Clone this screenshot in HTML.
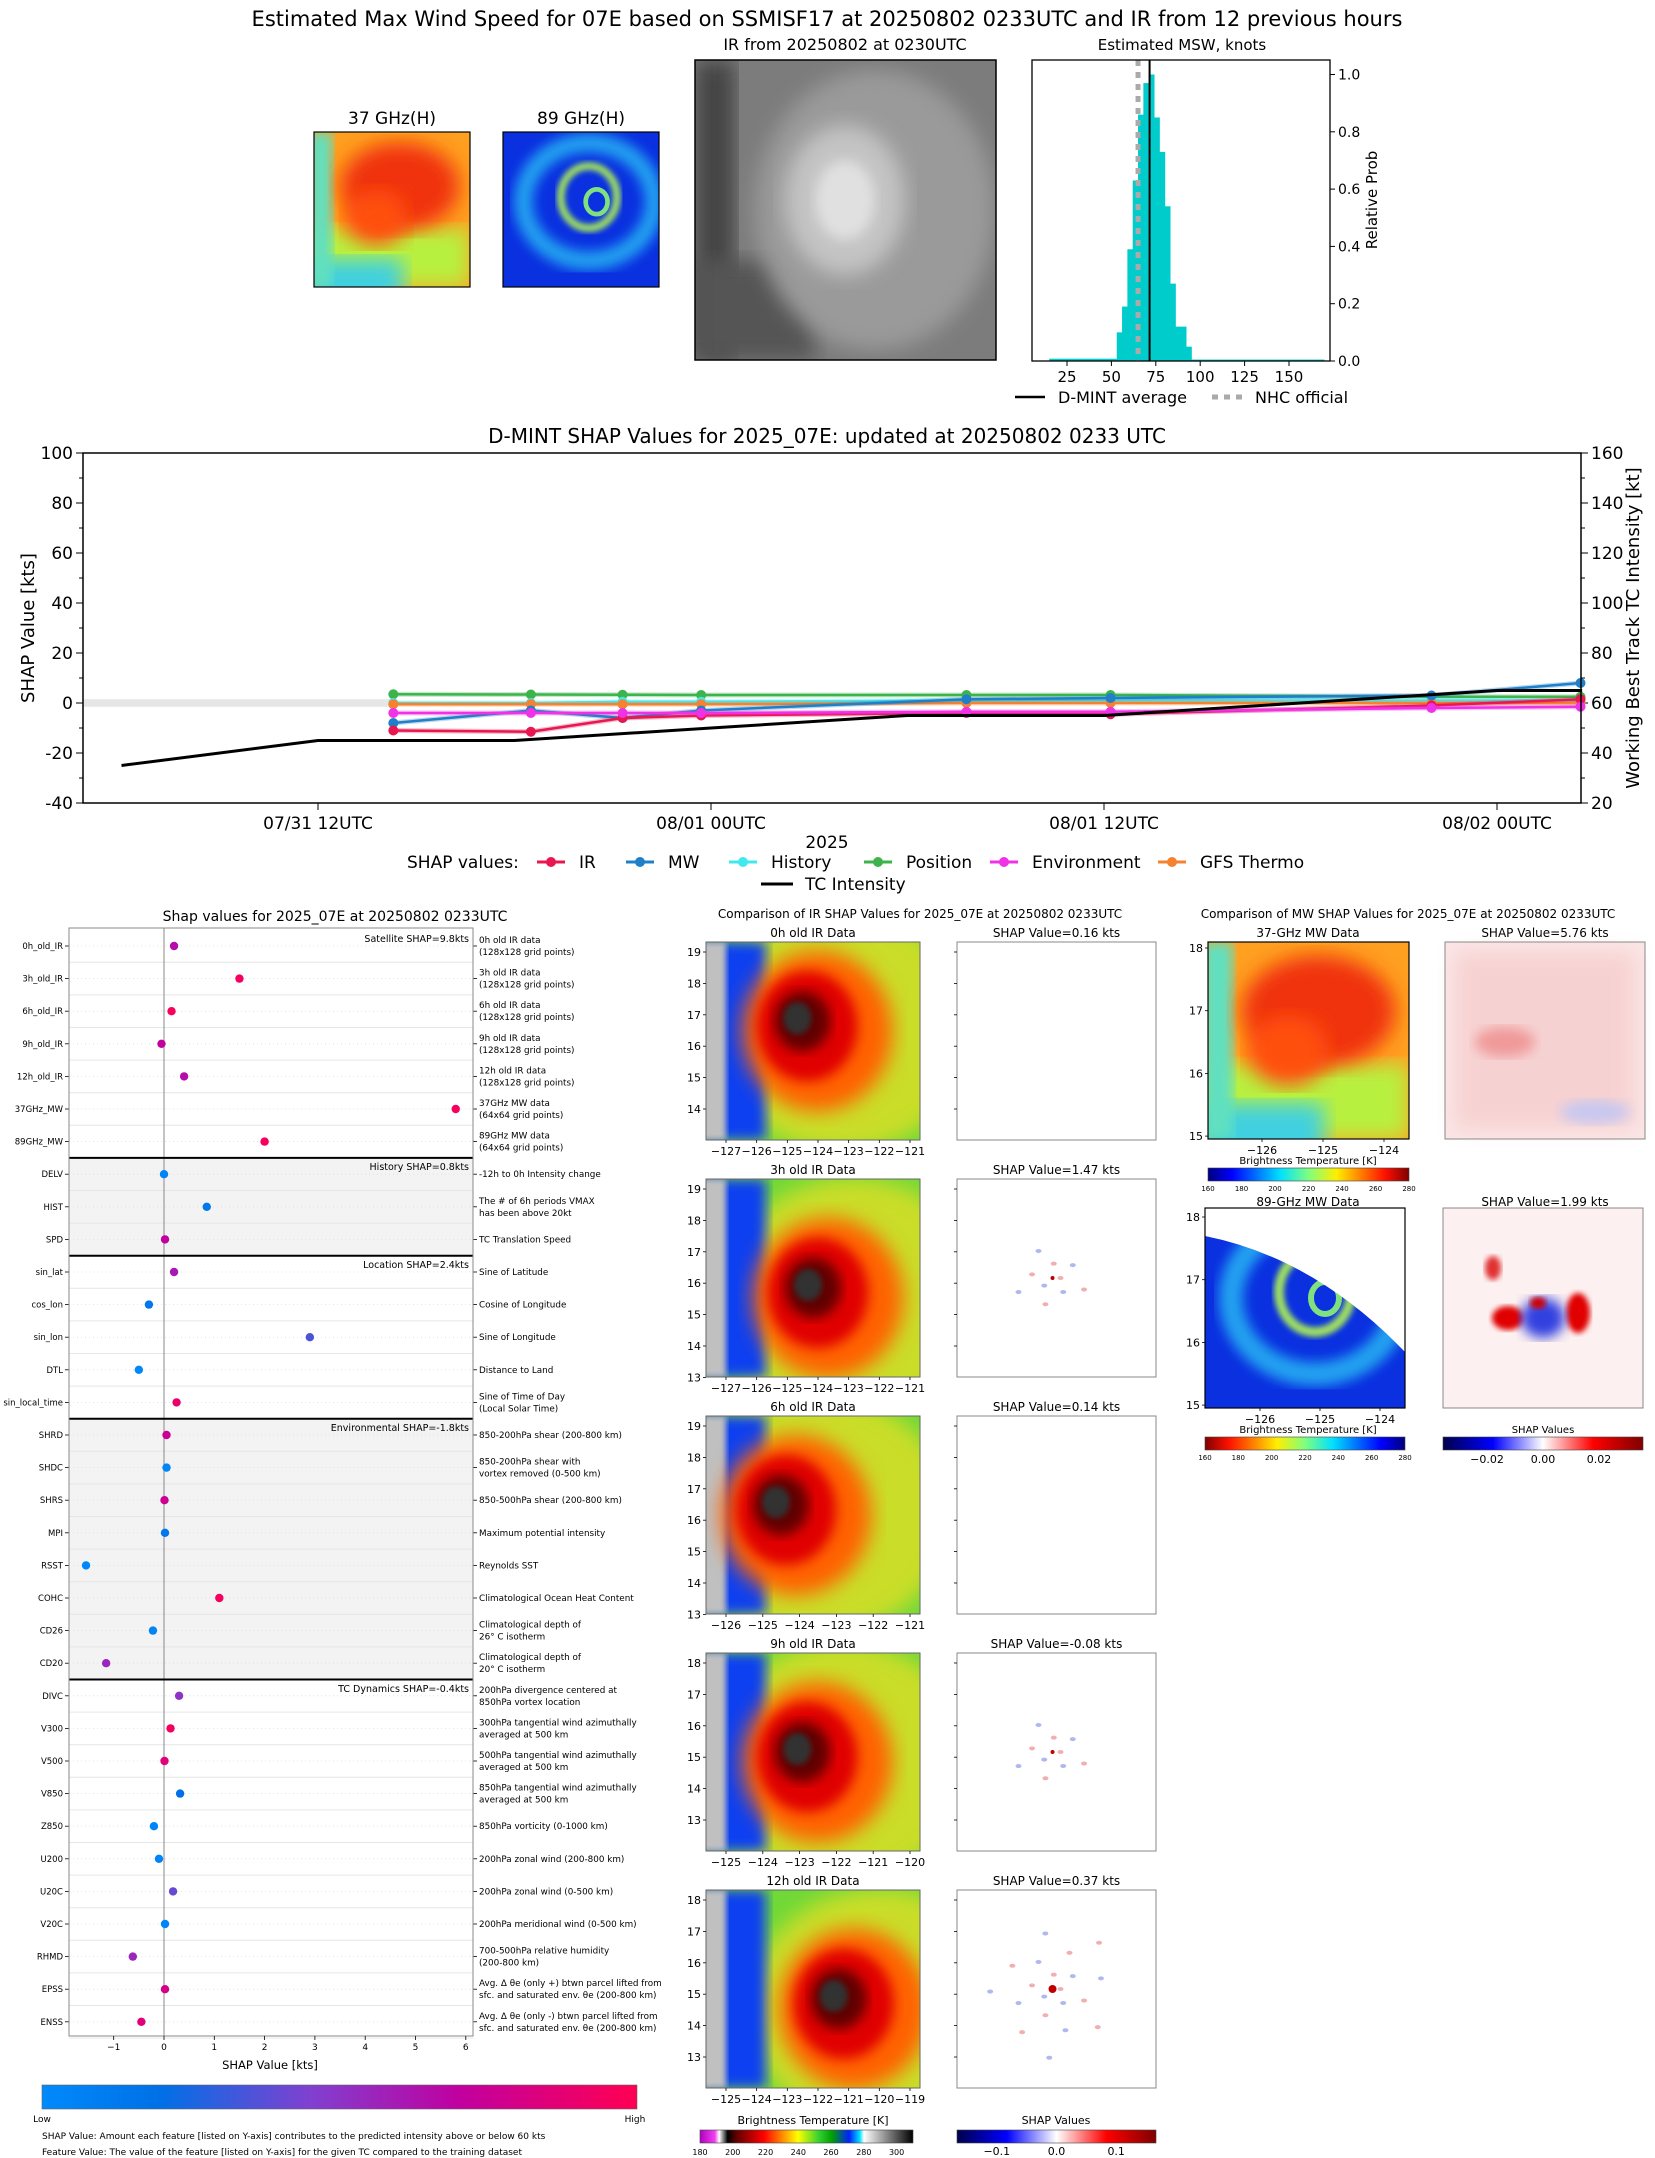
<!DOCTYPE html>
<html><head><meta charset="utf-8">
<style>
html,body{margin:0;padding:0;background:#fff;}
svg{display:block;font-family:"DejaVu Sans","Liberation Sans",sans-serif;}
</style></head>
<body>
<svg id="root" width="1655" height="2158" viewBox="0 0 1655 2158" xmlns="http://www.w3.org/2000/svg">
<defs>
<filter id="b3"><feGaussianBlur stdDeviation="3"/></filter>
<filter id="b6"><feGaussianBlur stdDeviation="6"/></filter>
<filter id="b10"><feGaussianBlur stdDeviation="10"/></filter>
<linearGradient id="jet" x1="0" x2="1"><stop offset="0" stop-color="#00007f"/><stop offset="0.12" stop-color="#0000ff"/><stop offset="0.36" stop-color="#00e0ff"/><stop offset="0.5" stop-color="#7fff7f"/><stop offset="0.64" stop-color="#ffee00"/><stop offset="0.88" stop-color="#ff1000"/><stop offset="1" stop-color="#7f0000"/></linearGradient>
<linearGradient id="jetr" x1="1" x2="0"><stop offset="0" stop-color="#00007f"/><stop offset="0.12" stop-color="#0000ff"/><stop offset="0.36" stop-color="#00e0ff"/><stop offset="0.5" stop-color="#7fff7f"/><stop offset="0.64" stop-color="#ffee00"/><stop offset="0.88" stop-color="#ff1000"/><stop offset="1" stop-color="#7f0000"/></linearGradient>
<linearGradient id="seis" x1="0" x2="1"><stop offset="0" stop-color="#00004c"/><stop offset="0.25" stop-color="#0000ff"/><stop offset="0.5" stop-color="#ffffff"/><stop offset="0.75" stop-color="#ff0000"/><stop offset="1" stop-color="#7f0000"/></linearGradient>
<linearGradient id="irc" x1="0" x2="1"><stop offset="0" stop-color="#b000c0"/><stop offset="0.07" stop-color="#f040f0"/><stop offset="0.09" stop-color="#ffffff"/><stop offset="0.13" stop-color="#000000"/><stop offset="0.17" stop-color="#600000"/><stop offset="0.3" stop-color="#ff0000"/><stop offset="0.4" stop-color="#ffa000"/><stop offset="0.46" stop-color="#ffff00"/><stop offset="0.56" stop-color="#30d030"/><stop offset="0.62" stop-color="#00a000"/><stop offset="0.7" stop-color="#0020ff"/><stop offset="0.75" stop-color="#00e0ff"/><stop offset="0.77" stop-color="#ffffff"/><stop offset="1" stop-color="#000000"/></linearGradient>
<linearGradient id="shapcb" x1="0" x2="1"><stop offset="0" stop-color="#008afb"/><stop offset="0.2" stop-color="#0070e6"/><stop offset="0.45" stop-color="#8040d0"/><stop offset="0.7" stop-color="#c000a0"/><stop offset="1" stop-color="#ff0052"/></linearGradient>
</defs>
<g id="g"></g>
</svg>
<script>
// ---------- DATA: time-series chart ----------
const seriesNames = ["IR","MW","History","Position","Environment","GFS Thermo"];
const seriesColors = ["#e8174f","#1f7fc8","#40e8f0","#3cb44b","#f032e6","#f58231"];
const shapHours = [2.3, 6.5, 9.3, 11.7, 19.8, 24.2, 34.0, 38.55];
const irVals = [-11, -11.5, -6, -5, -4, -4.5, -1, 1.5];
const mwVals = [-8, -3, -6, -3, 1.5, 2, 3, 8];
const histVals = [0, 0, 0.5, 0.5, 1, 1, 1, 1];
const posVals = [3.5, 3.4, 3.3, 3.2, 3.2, 3.2, 2.5, 2.5];
const envVals = [-4, -4, -4, -4, -3.5, -3.5, -2, -1.5];
const gfsVals = [-0.5, -0.5, -0.5, -0.5, 0, 0, 0, 0];
const tcHours = [-6, 0, 6, 12, 18, 24, 30, 36, 38.6];
const tcKts = [35, 45, 45, 50, 55, 55, 60, 65, 65];
const leftTicks = [100, 80, 60, 40, 20, 0, -20, -40];
const rightTicks = [160, 140, 120, 100, 80, 60, 40, 20];
const xTickHours = [0, 12, 24, 36];
const xTickLabels = ["07/31 12UTC", "08/01 00UTC", "08/01 12UTC", "08/02 00UTC"];
// ---------- DATA: histogram ----------
const histBins = [53,56,59,62,65,68,71,74,77,80,83,86,89,92];
const histProb = [0.10,0.19,0.39,0.63,0.86,0.97,1.0,0.85,0.73,0.54,0.27,0.12,0.12,0.05];
const dmintAvg = 71.5;
const nhcOfficial = 65;
const histXTicks = [25,50,75,100,125,150];
const histYTicks = [0,0.2,0.4,0.6,0.8,1.0];
// ---------- DATA: feature SHAP ----------
const featNames = ["0h_old_IR","3h_old_IR","6h_old_IR","9h_old_IR","12h_old_IR","37GHz_MW","89GHz_MW","DELV","HIST","SPD","sin_lat","cos_lon","sin_lon","DTL","sin_local_time","SHRD","SHDC","SHRS","MPI","RSST","COHC","CD26","CD20","DIVC","V300","V500","V850","Z850","U200","U20C","V20C","RHMD","EPSS","ENSS"];
const featShap = [0.2,1.5,0.15,-0.05,0.4,5.8,2.0,0,0.85,0.02,0.2,-0.3,2.9,-0.5,0.25,0.05,0.05,0.01,0.02,-1.55,1.1,-0.22,-1.15,0.3,0.13,0.01,0.32,-0.2,-0.1,0.18,0.02,-0.62,0.02,-0.45];
const featLevel = [0.65,0.95,0.97,0.7,0.65,0.95,0.95,0.05,0.15,0.7,0.6,0.15,0.35,0.02,0.9,0.75,0.05,0.75,0.15,0.02,0.95,0.05,0.55,0.5,0.95,0.85,0.2,0.05,0.05,0.4,0.05,0.55,0.8,0.85];
const featDesc = [["0h old IR data","(128x128 grid points)"],["3h old IR data","(128x128 grid points)"],["6h old IR data","(128x128 grid points)"],["9h old IR data","(128x128 grid points)"],["12h old IR data","(128x128 grid points)"],["37GHz MW data","(64x64 grid points)"],["89GHz MW data","(64x64 grid points)"],["-12h to 0h Intensity change"],["The # of 6h periods VMAX","has been above 20kt"],["TC Translation Speed"],["Sine of Latitude"],["Cosine of Longitude"],["Sine of Longitude"],["Distance to Land"],["Sine of Time of Day","(Local Solar Time)"],["850-200hPa shear (200-800 km)"],["850-200hPa shear with","vortex removed (0-500 km)"],["850-500hPa shear (200-800 km)"],["Maximum potential intensity"],["Reynolds SST"],["Climatological Ocean Heat Content"],["Climatological depth of","26° C isotherm"],["Climatological depth of","20° C isotherm"],["200hPa divergence centered at","850hPa vortex location"],["300hPa tangential wind azimuthally","averaged at 500 km"],["500hPa tangential wind azimuthally","averaged at 500 km"],["850hPa tangential wind azimuthally","averaged at 500 km"],["850hPa vorticity (0-1000 km)"],["200hPa zonal wind (200-800 km)"],["200hPa zonal wind (0-500 km)"],["200hPa meridional wind (0-500 km)"],["700-500hPa relative humidity","(200-800 km)"],["Avg. Δ θe (only +) btwn parcel lifted from","sfc. and saturated env. θe (200-800 km)"],["Avg. Δ θe (only -) btwn parcel lifted from","sfc. and saturated env. θe (200-800 km)"]];
const groupStarts = [0,7,10,15,23];
const groupLabels = ["Satellite SHAP=9.8kts","History SHAP=0.8kts","Location SHAP=2.4kts","Environmental SHAP=-1.8kts","TC Dynamics SHAP=-0.4kts"];
const featXTicks = [-1,0,1,2,3,4,5,6];

const NS="http://www.w3.org/2000/svg";
const G=document.getElementById('g');
function el(tag,attrs,parent,name,inter){const e=document.createElementNS(NS,tag);for(const k in attrs)e.setAttribute(k,attrs[k]);
 
 
 (parent||G).appendChild(e);return e;}
function tx(x,y,s,size,anchor,name,extra){const e=el('text',Object.assign({x:x,y:y,'font-size':size,'text-anchor':anchor||'start',fill:'#000'},extra||{}),null,name);e.textContent=s;return e;}
function line(x1,y1,x2,y2,stroke,w,name,extra){return el('line',Object.assign({x1:x1,y1:y1,x2:x2,y2:y2,stroke:stroke,'stroke-width':w},extra||{}),null,name);}
function rect(x,y,w,h,fill,name,extra){return el('rect',Object.assign({x:x,y:y,width:w,height:h,fill:fill},extra||{}),null,name);}

// ===== TOP TITLE =====
tx(827,26,"Estimated Max Wind Speed for 07E based on SSMISF17 at 20250802 0233UTC and IR from 12 previous hours",21,'middle','main-title');

// ===== small MW panels =====
function mw37(x,y,w,h,name){
 const g=el('g',{},null,name);
 const cp=el('clipPath',{id:'c'+name},g,name+'-clip');el('rect',{x:x,y:y,width:w,height:h},cp,name+'-clip-rect');
 const gg=el('g',{'clip-path':'url(#c'+name+')'},g,name+'-image');
 el('rect',{x:x,y:y,width:w,height:h,fill:'#ffa020'},gg,'bg');
 el('rect',{x:x,y:y+h*0.62,width:w,height:h*0.38,fill:'#b8f040',filter:'url(#b10)'},gg,'lowband');
 el('rect',{x:x-5,y:y+h*0.82,width:w*0.6,height:h*0.3,fill:'#40d0e0',filter:'url(#b10)'},gg,'cyan');
 el('rect',{x:x-5,y:y,width:w*0.15,height:h,fill:'#60e0c0',filter:'url(#b6)'},gg,'leftcyan');
 el('ellipse',{cx:x+w*0.55,cy:y+h*0.35,rx:w*0.38,ry:h*0.28,fill:'#f03010',filter:'url(#b10)'},gg,'redcore');
 el('ellipse',{cx:x+w*0.4,cy:y+h*0.55,rx:w*0.2,ry:h*0.18,fill:'#ff5010',filter:'url(#b10)'},gg,'redcore2');
 el('rect',{x:x,y:y,width:w,height:h,fill:'none',stroke:'#000','stroke-width':1.2},g,'frame');
}
function mw89(x,y,w,h,name,cut){
 const g=el('g',{},null,name);
 const cp=el('clipPath',{id:'c'+name},g,name+'-clip');el('rect',{x:x,y:y,width:w,height:h},cp,name+'-clip-rect');
 const gg=el('g',{'clip-path':'url(#c'+name+')'},g,name+'-image');
 el('rect',{x:x,y:y,width:w,height:h,fill:'#0a30e0'},gg,'bg');
 el('ellipse',{cx:x+w*0.55,cy:y+h*0.45,rx:w*0.42,ry:h*0.38,fill:'none',stroke:'#20a0f0','stroke-width':w*0.12,filter:'url(#b6)'},gg,'band');
 el('ellipse',{cx:x+w*0.55,cy:y+h*0.42,rx:w*0.18,ry:h*0.2,fill:'none',stroke:'#a0e060','stroke-width':w*0.05,filter:'url(#b3)'},gg,'ring');
 el('ellipse',{cx:x+w*0.6,cy:y+h*0.45,rx:w*0.07,ry:h*0.08,fill:'none',stroke:'#80e080','stroke-width':w*0.03},gg,'ring2');
 if(cut){el('path',{d:`M${x} ${y+h*0.14} Q${x+w*0.55} ${y+h*0.25} ${x+w} ${y+h*0.72} L${x+w} ${y} L${x} ${y} Z`,fill:'#fff'},gg,'swath-edge');}
 el('rect',{x:x,y:y,width:w,height:h,fill:'none',stroke:'#000','stroke-width':1.2},g,'frame');
}
tx(392,124,"37 GHz(H)",17,'middle','mw37-title');
mw37(314,132,156,155,'mw37-thumb');
tx(581,124,"89 GHz(H)",17,'middle','mw89-title');
mw89(503,132,156,155,'mw89-thumb',false);

// ===== IR grayscale =====
tx(845,50,"IR from 20250802 at 0230UTC",16,'middle','ir-gray-title');
(function(){const x=695,y=60,w=301,h=300;const g=el('g',{},null,'ir-gray-image');
 const cp=el('clipPath',{id:'cgray'},g,'clip');el('rect',{x:x,y:y,width:w,height:h},cp,'clip-rect');
 const gg=el('g',{'clip-path':'url(#cgray)'},g,'gray-layers');
 el('rect',{x:x,y:y,width:w,height:h,fill:'#7c7c7c'},gg,'bg');
 el('rect',{x:x,y:y,width:40,height:h,fill:'#454545',filter:'url(#b10)'},gg,'dark-left');
 el('rect',{x:x,y:y+200,width:120,height:100,fill:'#555',filter:'url(#b10)'},gg,'dark-bl');
 el('ellipse',{cx:x+180,cy:y+150,rx:120,ry:140,fill:'#9a9a9a',filter:'url(#b10)'},gg,'cloud');
 el('ellipse',{cx:x+150,cy:y+140,rx:60,ry:75,fill:'#c4c4c4',filter:'url(#b10)'},gg,'cdo');
 el('ellipse',{cx:x+150,cy:y+140,rx:30,ry:40,fill:'#e0e0e0',filter:'url(#b6)'},gg,'core');
 el('rect',{x:x,y:y,width:w,height:h,fill:'none',stroke:'#000','stroke-width':1.5},g,'frame');})();

// ===== Histogram =====
const hx0=1032,hx1=1330,hy0=60,hy1=361;
const hX=v=>1067+(v-25)*1.776, hY=p=>361-p*286.5;
tx(1182,50,"Estimated MSW, knots",15,'middle','hist-title');
rect(hX(15),hY(0.008),hX(53)-hX(15),hY(0)-hY(0.008),'#00cccc','hist-tail-low');
rect(hX(95),hY(0.005),hX(170)-hX(95),hY(0)-hY(0.005),'#00cccc','hist-tail-high');
histBins.forEach((b,i)=>{const r=rect(hX(b),hY(histProb[i]),hX(b+3)-hX(b)+0.5,hY(0)-hY(histProb[i]),'#00cccc','hist-bar');});
line(hX(nhcOfficial),hy0,hX(nhcOfficial),hy1,'#aaaaaa',5,'nhc-official-line',{'stroke-dasharray':'6,6'});
line(hX(dmintAvg),hy0,hX(dmintAvg),hy1,'#000',2,'dmint-average-line');
rect(hx0,hy0,hx1-hx0,hy1-hy0,'none','hist-frame',{stroke:'#000','stroke-width':1.3});
histXTicks.forEach(v=>{line(hX(v),hy1,hX(v),hy1+5,'#000',1,'hist-xtick');tx(hX(v),hy1+21,String(v),15,'middle','hist-xtick-label');});
histYTicks.forEach(v=>{line(hx1,hY(v),hx1+5,hY(v),'#000',1,'hist-ytick');tx(hx1+8,hY(v)+5,v.toFixed(1),14,'start','hist-ytick-label');});
tx(0,0,"Relative Prob",15,'middle','hist-ylabel',{transform:'translate(1377,200) rotate(-90)'});
line(1015,397,1045,397,'#000',2.5,'legend-dmint-line');tx(1058,403,"D-MINT average",16,'start','legend-dmint-label');
line(1212,397,1242,397,'#aaa',5,'legend-nhc-line',{'stroke-dasharray':'6,6'});tx(1255,403,"NHC official",16,'start','legend-nhc-label');

// ===== Time series chart =====
const px0=83,px1=1581,py0=453,py1=803;
const X=h=>318+h*32.75, Y=v=>703-v*2.5, YR=k=>703-(k-60)*2.5;
tx(827,443,"D-MINT SHAP Values for 2025_07E: updated at 20250802 0233 UTC",20,'middle','ts-title');
rect(px0,Y(1.5),X(shapHours[0])-px0,7.5,'#e6e6e6','zero-band');
leftTicks.forEach(v=>{line(px0-7,Y(v),px0,Y(v),'#000',1,'left-tick');tx(px0-10,Y(v)+6,String(v),17,'end','left-tick-label');});
for(let v=-30;v<=90;v+=20){line(px0-4,Y(v),px0,Y(v),'#000',1,'left-minor-tick');}
rightTicks.forEach(k=>{line(px1,YR(k),px1+7,YR(k),'#000',1,'right-tick');tx(px1+10,YR(k)+6,String(k),17,'start','right-tick-label');});
for(let k=30;k<=150;k+=20){line(px1,YR(k),px1+4,YR(k),'#000',1,'right-minor-tick');}
xTickHours.forEach((h,i)=>{line(X(h),py1,X(h),py1+7,'#000',1,'x-tick');tx(X(h),py1+26,xTickLabels[i],17,'middle','x-tick-label');});
tx(827,848,"2025",17,'middle','x-axis-title');
tx(0,0,"SHAP Value [kts]",18,'middle','y-axis-title',{transform:'translate(34,628) rotate(-90)'});
tx(0,0,"Working Best Track TC Intensity [kt]",18,'middle','y2-axis-title',{transform:'translate(1639,628) rotate(-90)'});
const allSeries=[irVals,mwVals,histVals,posVals,envVals,gfsVals];
const drawOrder=[3,2,5,1,0,4];
drawOrder.forEach(si=>{const vals=allSeries[si];const pts=shapHours.map((h,i)=>X(h)+','+Y(vals[i])).join(' ');
 el('polyline',{points:pts,fill:'none',stroke:seriesColors[si],'stroke-width':5,'stroke-opacity':0.3},null,'series-halo-'+seriesNames[si].toLowerCase().replace(' ','-'));
 el('polyline',{points:pts,fill:'none',stroke:seriesColors[si],'stroke-width':2.5},null,'series-line-'+seriesNames[si].toLowerCase().replace(' ','-'));
 shapHours.forEach((h,i)=>{el('circle',{cx:X(h),cy:Y(vals[i]),r:5,fill:seriesColors[si]},null,'series-point-'+seriesNames[si].toLowerCase().replace(' ','-'));});});
el('polyline',{points:tcHours.map((h,i)=>X(h)+','+YR(tcKts[i])).join(' '),fill:'none',stroke:'#000','stroke-width':3},null,'tc-intensity-line');
rect(px0,py0,px1-px0,py1-py0,'none','ts-frame',{stroke:'#000','stroke-width':1.5});
tx(407,868,"SHAP values:",17,'start','legend-title');
const legX=[551,640,743,878,1004,1172];
seriesNames.forEach((n,i)=>{line(legX[i]-14,862,legX[i]+14,862,seriesColors[i],3,'legend-line');el('circle',{cx:legX[i],cy:862,r:5,fill:seriesColors[i]},null,'legend-marker');tx(legX[i]+28,868,n,17,'start','legend-label');});
line(761,884,793,884,'#000',3,'legend-tc-line');tx(805,890,"TC Intensity",17,'start','legend-tc-label');

// ===== Feature SHAP panel =====
const fx0=69,fx1=473,fy0=928,fy1=2036;
const RS=32.6;
const FX=v=>164+v*50.3, FY=i=>946+i*RS;
tx(335,921,"Shap values for 2025_07E at 20250802 0233UTC",14,'middle','feature-title');
[[7,10],[15,23]].forEach(r=>rect(fx0,FY(r[0])-RS/2,fx1-fx0,(r[1]-r[0])*RS,'#f3f3f3','group-shade'));
featNames.forEach((n,i)=>{line(fx0,FY(i)+RS/2,fx1,FY(i)+RS/2,'#e6e6e6',1,'row-grid');
 line(fx0,FY(i),fx1,FY(i),'#ddd',0.8,'row-dotted',{'stroke-dasharray':'1,3'});
 line(fx0-4,FY(i),fx0,FY(i),'#000',0.8,'row-tick');
 tx(fx0-6,FY(i)+3,n,8.5,'end','feature-name');
 line(fx1,FY(i),fx1+4,FY(i),'#000',0.8,'desc-tick');
 const d=featDesc[i];if(d.length===1)tx(fx1+6,FY(i)+3,d[0],8.8,'start','feature-desc');else{tx(fx1+6,FY(i)-3,d[0],8.8,'start','feature-desc');tx(fx1+6,FY(i)+9,d[1],8.8,'start','feature-desc');}});
line(FX(0),fy0,FX(0),fy1,'#888',1,'zero-line');
groupStarts.forEach((s,gi)=>{if(gi>0)line(fx0,FY(s)-RS/2,fx1,FY(s)-RS/2,'#000',2,'group-divider');tx(fx1-4,FY(s)-4,groupLabels[gi],9.5,'end','group-label');});
function lvlColor(t){const stops=[[0,[0,138,251]],[0.2,[0,112,230]],[0.45,[128,64,208]],[0.7,[192,0,160]],[1,[255,0,82]]];for(let k=1;k<stops.length;k++){if(t<=stops[k][0]){const a=stops[k-1],b=stops[k];const f=(t-a[0])/(b[0]-a[0]);return 'rgb('+a[1].map((c,j)=>Math.round(c+(b[1][j]-c)*f)).join(',')+')';}}return 'rgb(255,0,82)';}
featNames.forEach((n,i)=>{el('circle',{cx:FX(featShap[i]),cy:FY(i),r:4.2,fill:lvlColor(featLevel[i])},null,'feature-dot');});
rect(fx0,fy0,fx1-fx0,fy1-fy0,'none','feature-frame',{stroke:'#888','stroke-width':1});
featXTicks.forEach(v=>{line(FX(v),fy1,FX(v),fy1+4,'#000',0.8,'feature-xtick');tx(FX(v),fy1+14,v<0?'−'+Math.abs(v):String(v),9,'middle','feature-xtick-label');});
tx(270,2069,"SHAP Value [kts]",11.5,'middle','feature-xlabel');
rect(42,2085,595,24,'url(#shapcb)','feature-colorbar',{stroke:'#666','stroke-width':0.6});
tx(42,2122,"Low",9,'middle','colorbar-low');tx(635,2122,"High",9,'middle','colorbar-high');
tx(42,2139,"SHAP Value: Amount each feature [listed on Y-axis] contributes to the predicted intensity above or below 60 kts",9,'start','footnote-shap');
tx(42,2155,"Feature Value: The value of the feature [listed on Y-axis] for the given TC compared to the training dataset",9,'start','footnote-feature');

// ===== IR color panels =====
tx(920,918,"Comparison of IR SHAP Values for 2025_07E at 20250802 0233UTC",12,'middle','ir-compare-title');
const irTitles=["0h old IR Data","3h old IR Data","6h old IR Data","9h old IR Data","12h old IR Data"];
const irShapTitles=["SHAP Value=0.16 kts","SHAP Value=1.47 kts","SHAP Value=0.14 kts","SHAP Value=-0.08 kts","SHAP Value=0.37 kts"];
const irTop=[942,1179,1416,1653,1890];
const irYT=[["19","18","17","16","15","14"],["19","18","17","16","15","14","13"],["19","18","17","16","15","14","13"],["18","17","16","15","14","13"],["18","17","16","15","14","13"]];
const irXT=[["−127","−126","−125","−124","−123","−122","−121"],["−127","−126","−125","−124","−123","−122","−121"],["−126","−125","−124","−123","−122","−121"],["−125","−124","−123","−122","−121","−120"],["−125","−124","−123","−122","−121","−120","−119"]];
const irCenters=[[0.45,0.4],[0.5,0.55],[0.35,0.45],[0.45,0.5],[0.62,0.55]];
const shapSpots=[0,1,0,1,2];
irTop.forEach((t,k)=>{const x=706,w=214,h=198;
 tx(x+w/2,t-5,irTitles[k],12,'middle','ir-panel-title');
 const g=el('g',{},null,'ir-panel-'+k);const cp=el('clipPath',{id:'cir'+k},g,'clip');el('rect',{x:x,y:t,width:w,height:h},cp,'clip-rect');
 const gg=el('g',{'clip-path':'url(#cir'+k+')'},g,'ir-layers');
 const cx=x+w*irCenters[k][0],cy=t+h*irCenters[k][1];
 el('rect',{x:x,y:t,width:w,height:h,fill:'#70d838'},gg,'bg');
 el('ellipse',{cx:cx+40,cy:cy+10,rx:130,ry:120,fill:'#f0e020',filter:'url(#b10)','opacity':0.7},gg,'yellow');
 el('rect',{x:x-10,y:t,width:70,height:h,fill:'#1040f0',filter:'url(#b6)'},gg,'blue-band');
 el('rect',{x:x-10,y:t,width:30,height:h,fill:'#c0c0c0',filter:'url(#b3)'},gg,'gray-edge');
 el('ellipse',{cx:cx+15,cy:cy+10,rx:75,ry:80,fill:'#ff6000',filter:'url(#b10)'},gg,'orange');
 el('ellipse',{cx:cx+5,cy:cy+5,rx:50,ry:55,fill:'#e00000',filter:'url(#b6)'},gg,'red');
 el('ellipse',{cx:cx,cy:cy,rx:28,ry:30,fill:'#600000',filter:'url(#b6)'},gg,'darkred');
 el('ellipse',{cx:cx-5,cy:cy-3,rx:14,ry:16,fill:'#303030',filter:'url(#b3)'},gg,'eye');
 el('rect',{x:x,y:t,width:w,height:h,fill:'none',stroke:'#666','stroke-width':1},g,'frame');
 irYT[k].forEach((s,j)=>{const yy=t+10+j*31.4;line(x-3,yy,x,yy,'#000',0.8,'ir-ytick');tx(x-5,yy+4,s,11,'end','ir-ytick-label');});
 const n=irXT[k].length;irXT[k].forEach((s,j)=>{const xx=x+20+j*(w-30)/(n-1);line(xx,t+h,xx,t+h+3,'#000',0.8,'ir-xtick');tx(xx,t+h+15,s,11,'middle','ir-xtick-label');});
 const sx=957,sw=199;
 tx(sx+sw/2,t-5,irShapTitles[k],12,'middle','ir-shap-title');
 rect(sx,t,sw,h,'#fff','ir-shap-panel-'+k,{stroke:'#888','stroke-width':1});
 if(shapSpots[k]>0){const c=[sx+sw*0.48,t+h*0.5];
  for(let q=0;q<10*shapSpots[k];q++){const a=q*2.4,r=8+q*3.2;el('ellipse',{cx:c[0]+Math.cos(a)*r,cy:c[1]+Math.sin(a)*r,rx:3,ry:2,fill:q%2?'#b0b8f0':'#f0b0b0'},null,'shap-speckle');}
  el('circle',{cx:c[0],cy:c[1],r:shapSpots[k]*2,fill:'#c00000'},null,'shap-hotspot');}
 for(let j=0;j<6;j++){const yy=t+10+j*31.4;line(sx-3,yy,sx,yy,'#000',0.8,'shap-ytick');}
});
tx(813,2124,"Brightness Temperature [K]",11,'middle','ir-colorbar-label');
rect(700,2130,213,13,'url(#irc)','ir-colorbar',{stroke:'#444','stroke-width':0.6});
[180,200,220,240,260,280,300].forEach(v=>tx(700+(v-180)*213/130,2155,String(v),8,'middle','ir-colorbar-tick'));
tx(1056,2124,"SHAP Values",11,'middle','ir-shap-colorbar-label');
rect(957,2130,199,13,'url(#seis)','ir-shap-colorbar',{stroke:'#444','stroke-width':0.6});
[["−0.1",0.2],["0.0",0.5],["0.1",0.8]].forEach(a=>tx(957+199*a[1],2155,a[0],11,'middle','ir-shap-colorbar-tick'));

// ===== MW panels =====
tx(1408,918,"Comparison of MW SHAP Values for 2025_07E at 20250802 0233UTC",12,'middle','mw-compare-title');
tx(1308,937,"37-GHz MW Data",12,'middle','mw37-panel-title');
mw37(1208,942,201,197,'mw37-panel');
tx(1308,1206,"89-GHz MW Data",12,'middle','mw89-panel-title');
mw89(1205,1208,200,200,'mw89-panel',true);
["18","17","16","15"].forEach((s,j)=>{const yy=948+j*62.7;line(1205,yy,1208,yy,'#000',0.8,'mw37-ytick');tx(1203,yy+4,s,11,'end','mw37-ytick-label');
 const y2=1217+j*62.7;line(1202,y2,1205,y2,'#000',0.8,'mw89-ytick');tx(1200,y2+4,s,11,'end','mw89-ytick-label');});
["−126","−125","−124"].forEach((s,j)=>{const xx=1262+j*61;line(xx,1139,xx,1142,'#000',0.8,'mw37-xtick');tx(xx,1154,s,11,'middle','mw37-xtick-label');
 const x2=1260+j*60;line(x2,1408,x2,1411,'#000',0.8,'mw89-xtick');tx(x2,1423,s,11,'middle','mw89-xtick-label');});
tx(1308,1164,"Brightness Temperature [K]",10,'middle','mw37-colorbar-label');
rect(1208,1168,201,13,'url(#jet)','mw37-colorbar',{stroke:'#444','stroke-width':0.6});
tx(1308,1433,"Brightness Temperature [K]",10,'middle','mw89-colorbar-label');
rect(1205,1437,200,13,'url(#jetr)','mw89-colorbar',{stroke:'#444','stroke-width':0.6});
[160,180,200,220,240,260,280].forEach(v=>{tx(1208+(v-160)*201/120,1191,String(v),7,'middle','mw37-cb-tick');tx(1205+(v-160)*200/120,1460,String(v),7,'middle','mw89-cb-tick');});
tx(1545,937,"SHAP Value=5.76 kts",12,'middle','mw37-shap-title');
(function(){const x=1445,y=942,w=200,h=197;rect(x,y,w,h,'#fbe6e6','mw37-shap-panel');
 el('rect',{x:x+10,y:y+10,width:w-20,height:h-20,fill:'#f4c4c4',filter:'url(#b10)',opacity:0.6},null,'mw37-shap-tint');
 el('ellipse',{cx:x+60,cy:y+100,rx:30,ry:15,fill:'#f09a9a',filter:'url(#b6)'},null,'mw37-shap-red');
 el('ellipse',{cx:x+150,cy:y+170,rx:35,ry:12,fill:'#c8c8f0',filter:'url(#b6)'},null,'mw37-shap-blue');
 rect(x,y,w,h,'none','mw37-shap-frame',{stroke:'#888','stroke-width':1});})();
tx(1545,1206,"SHAP Value=1.99 kts",12,'middle','mw89-shap-title');
(function(){const x=1443,y=1208,w=200,h=200;rect(x,y,w,h,'#fdf0f0','mw89-shap-panel');
 el('ellipse',{cx:x+65,cy:y+110,rx:16,ry:12,fill:'#e00000',filter:'url(#b3)'},null,'mw89-shap-red1');
 el('ellipse',{cx:x+135,cy:y+105,rx:12,ry:20,fill:'#e00000',filter:'url(#b3)'},null,'mw89-shap-red2');
 el('ellipse',{cx:x+50,cy:y+60,rx:8,ry:12,fill:'#e03030',filter:'url(#b3)'},null,'mw89-shap-red3');
 el('ellipse',{cx:x+100,cy:y+110,rx:22,ry:20,fill:'#3040e0',filter:'url(#b6)'},null,'mw89-shap-blue');
 el('ellipse',{cx:x+95,cy:y+95,rx:8,ry:6,fill:'#d00000',filter:'url(#b3)'},null,'mw89-shap-center');
 rect(x,y,w,h,'none','mw89-shap-frame',{stroke:'#888','stroke-width':1});})();
tx(1543,1433,"SHAP Values",10,'middle','mw-shap-colorbar-label');
rect(1443,1437,200,13,'url(#seis)','mw-shap-colorbar',{stroke:'#444','stroke-width':0.6});
[["−0.02",0.22],["0.00",0.5],["0.02",0.78]].forEach(a=>tx(1443+200*a[1],1463,a[0],11,'middle','mw-shap-colorbar-tick'));
</script>
</body></html>
